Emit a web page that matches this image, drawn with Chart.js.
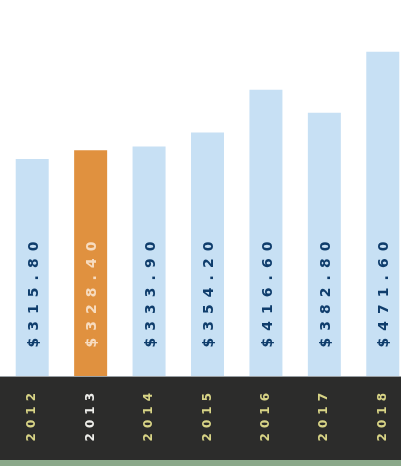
<!DOCTYPE html>
<html>
<head>
<meta charset="utf-8">
<script src="https://cdn.jsdelivr.net/npm/chart.js@4/dist/chart.umd.min.js"></script>
<style>
  html, body { margin: 0; padding: 0; background: #ffffff; overflow: hidden; }
  #wrap { position: absolute; left: 0; top: 0; width: 412px; height: 460px; }
  #pie { position: absolute; left: 0; top: 460px; width: 401px; height: 6px; background: #8aa889; }
</style>
</head>
<body>
<div id="wrap"><canvas id="plot"></canvas></div>
<div id="pie"></div>
<script>
// datos del grafico
let anios = ['2012', '2013', '2014', '2015', '2016', '2017', '2018']
let valores = [315.80, 328.40, 333.90, 354.20, 416.60, 382.80, 471.60]
let etiquetas = ['$315.80', '$328.40', '$333.90', '$354.20', '$416.60', '$382.80', '$471.60']
let destacado = 1

let azul = '#c7e0f4'
let naranja = '#e0913f'
let franja = '#2c2c2b'

//Plugin: franja oscura bajo las barras y espaciado de letras
let franjaPlugin = {
  id: 'franja',
  beforeDraw: (chart) => {
    let ctx = chart.ctx
    ctx.save()
    ctx.fillStyle = franja
    ctx.fillRect(0, chart.chartArea.bottom, chart.width, chart.height - chart.chartArea.bottom)
    ctx.fillStyle = '#9aa0a4'
    ctx.fillRect(0, chart.chartArea.bottom, chart.width, 1)
    ctx.restore()
    ctx.letterSpacing = '5px'
  },
  afterDraw: (chart) => {
    chart.ctx.letterSpacing = '0px'
  }
}

//Plugin: valores verticales dentro de cada barra
let valoresPlugin = {
  id: 'valores',
  afterDatasetsDraw: (chart) => {
    let ctx = chart.ctx
    let meta = chart.getDatasetMeta(0)
    meta.data.forEach((barra, i) => {
      ctx.save()
      ctx.letterSpacing = '7px'
      ctx.font = 'bold 14px "DejaVu Sans"'
      ctx.fillStyle = i === destacado ? '#f7dcc0' : '#0f3d6c'
      ctx.textAlign = 'center'
      ctx.textBaseline = 'middle'
      ctx.translate(barra.x + 2, chart.chartArea.bottom - 85)
      ctx.rotate(-Math.PI / 2)
      ctx.fillText(etiquetas[i], 0, 0)
      ctx.restore()
    })
  }
}

let plotRef = document.getElementById('plot')

let config = {
  type: 'bar',
  data: {
    labels: anios,
    datasets: [
      {
        data: valores,
        backgroundColor: (c) => c.dataIndex === destacado ? naranja : azul,
        borderWidth: 0,
        categoryPercentage: 1,
        barPercentage: 0.565
      }
    ]
  },
  options: {
    responsive: true,
    maintainAspectRatio: false,
    animation: false,
    layout: { padding: { left: 3, right: 0, top: 0, bottom: 0 } },
    plugins: {
      legend: { display: false },
      tooltip: { enabled: false }
    },
    scales: {
      x: {
        grid: { display: false, drawTicks: false },
        border: { display: false },
        ticks: {
          minRotation: 90,
          maxRotation: 90,
          autoSkip: false,
          padding: 12,
          color: (c) => c.index === destacado ? '#eeeeea' : '#d8d486',
          font: { family: 'DejaVu Sans', size: 12, weight: 'bold' }
        },
        afterFit: (scale) => { scale.height = 84 }
      },
      y: {
        display: false,
        min: 0,
        max: 547
      }
    }
  },
  plugins: [franjaPlugin, valoresPlugin]
}

let chart = new Chart(plotRef, config)
</script>
</body>
</html>
